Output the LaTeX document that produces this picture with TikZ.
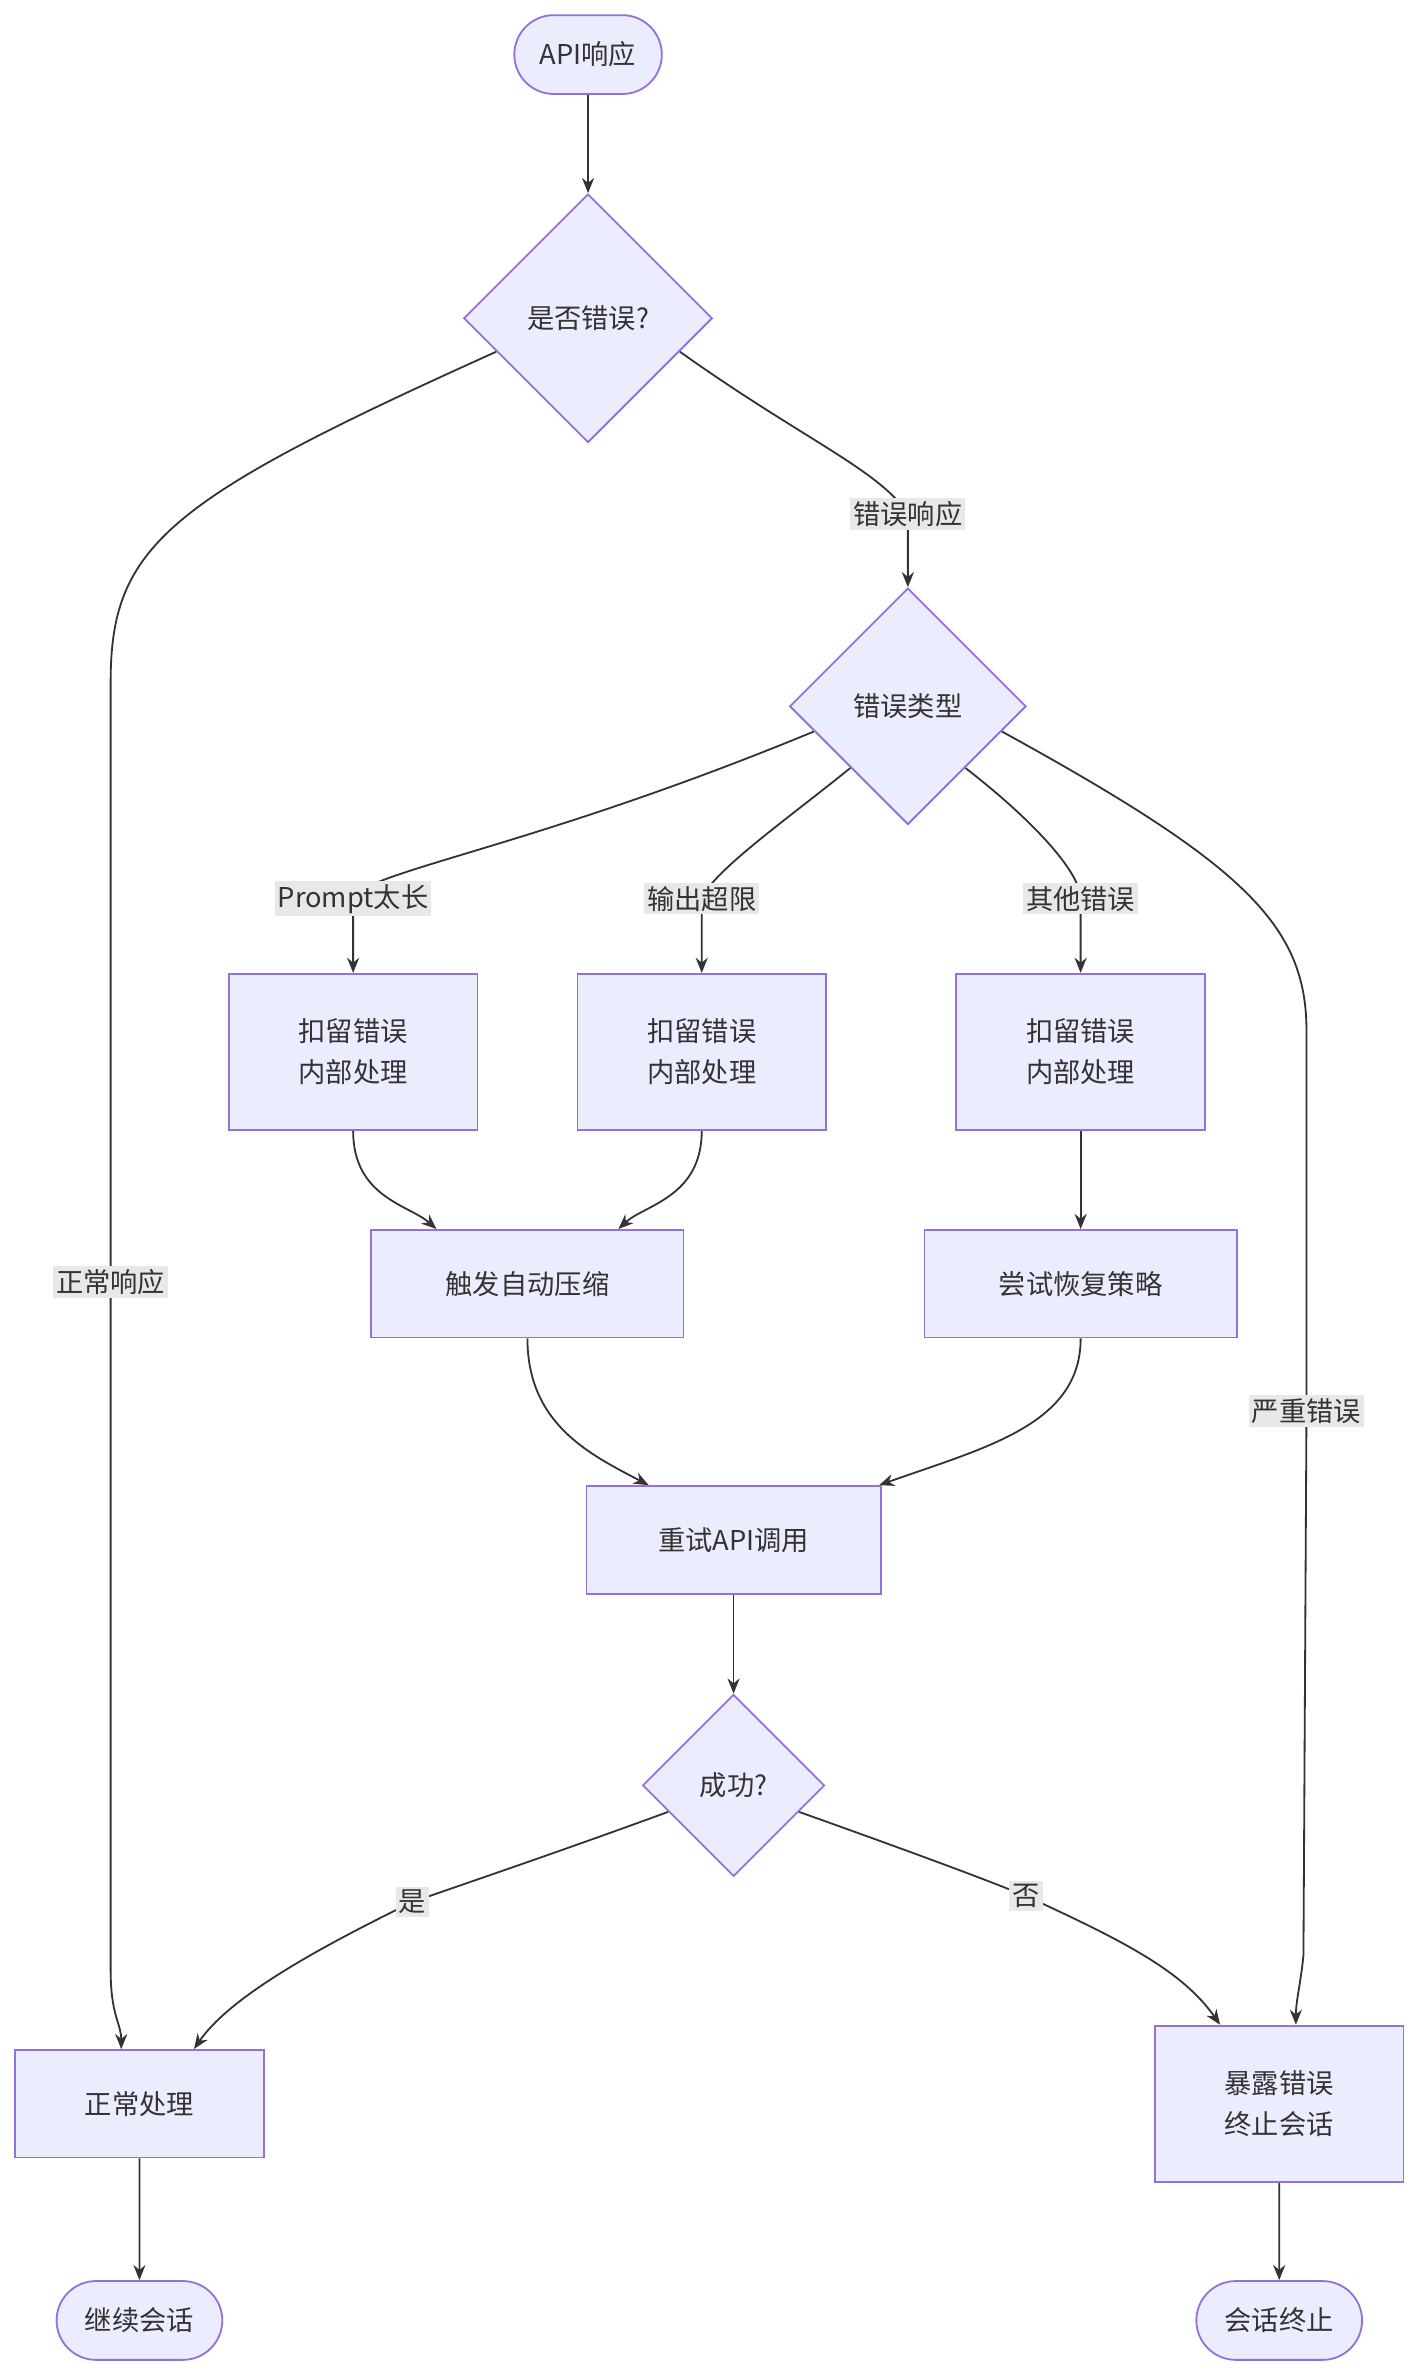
\documentclass[tikz,border=0pt]{standalone}
\usepackage{fontspec}
\setmainfont{Noto Sans CJK SC}
\usetikzlibrary{shapes.geometric,shapes.misc,arrows.meta}
\pgfdeclarelayer{bg}
\pgfsetlayers{bg,main}
\definecolor{nfill}{HTML}{ECECFF}
\definecolor{nline}{HTML}{9370DB}
\definecolor{eline}{HTML}{333333}
\definecolor{lbg}{HTML}{E8E8E8}
\begin{document}
\begin{tikzpicture}[x=1pt,y=-1pt,
  every node/.style={font=\fontsize{18}{27}\selectfont, text=eline},
  box/.style={draw=nline, fill=nfill, line width=1.2pt, minimum width=164pt, minimum height=103pt, align=center, inner sep=0},
  wbox/.style={box, minimum width=206pt, minimum height=71pt},
  term/.style={draw=nline, fill=nfill, line width=1.2pt, rounded rectangle, minimum width=104pt, minimum height=52pt},
  dia/.style={draw=nline, fill=nfill, line width=1.2pt, diamond, inner sep=0, minimum width=#1, minimum height=#1},
  lab/.style={fill=lbg, inner sep=2pt},
  edge/.style={draw=eline, line width=1.2pt, -{Stealth[length=10pt,width=8pt]}}]
\useasboundingbox (0,0) rectangle (937,1567);
\node[term] (api) at (388,36) {API响应};
\node[dia=164pt] (d1) at (388,210) {是否错误?};
\node[dia=156pt] (d2) at (599,466) {错误类型};
\node[box] (b1) at (233,694) {扣留错误\\内部处理};
\node[box] (b2) at (463,694) {扣留错误\\内部处理};
\node[box] (b3) at (713,694) {扣留错误\\内部处理};
\node[wbox] (zip) at (348,847) {触发自动压缩};
\node[wbox] (rec) at (713,847) {尝试恢复策略};
\node[wbox, minimum width=194pt] (retry) at (484,1016) {重试API调用};
\node[dia=120pt] (d3) at (484,1178) {成功?};
\node[box, minimum height=71pt] (norm) at (92,1388) {正常处理};
\node[box] (fail) at (844,1388) {暴露错误\\终止会话};
\node[term, minimum width=116pt] (cont) at (92,1531) {继续会话};
\node[term, minimum width=116pt] (end) at (844,1531) {会话终止};
\node[lab] (l1) at (599,339) {错误响应};
\node[lab] (l2) at (73,846) {正常响应};
\node[lab] (l3) at (233,593) {Prompt太长};
\node[lab] (l4) at (463,593) {输出超限};
\node[lab] (l5) at (713,593) {其他错误};
\node[lab] (l6) at (862,931) {严重错误};
\node[lab] (l7) at (272,1255) {是};
\node[lab] (l8) at (677,1251) {否};
\begin{pgfonlayer}{bg}
\draw[edge] (api) -- (d1);
\draw[edge] (d1.200) .. controls (110,330) and (73,360) .. (73,450) -- (l2.center) -- (73,1300) .. controls (73,1330) and (80,1335) .. (80,1352);
\draw[edge] (d1.-20) .. controls (530,290) and (580,310) .. (l1.center) .. controls (599,355) and (599,370) .. (d2.north);
\draw[edge] (d2.195) .. controls (350,560) and (240,575) .. (l3.center) .. controls (233,610) and (233,625) .. (b1.north);
\draw[edge] (d2.227) .. controls (520,540) and (470,575) .. (l4.center) .. controls (463,610) and (463,625) .. (b2.north);
\draw[edge] (d2.-47) .. controls (680,540) and (713,575) .. (l5.center) .. controls (713,610) and (713,625) .. (b3.north);
\draw[edge] (d2.-15) .. controls (820,570) and (862,610) .. (862,680) -- (l6.center) -- (860,1290) .. controls (858,1310) and (855,1320) .. (fail.north -| 855,0);
\draw[edge] (b1.south) .. controls (233,790) and (270,795) .. (zip.north -| 288,0);
\draw[edge] (b2.south) .. controls (463,790) and (425,795) .. (zip.north -| 408,0);
\draw[edge] (b3) -- (rec);
\draw[edge] (zip.south) .. controls (348,940) and (390,960) .. (retry.north -| 428,0);
\draw[edge] (rec.south) .. controls (713,940) and (650,955) .. (retry.north -| 580,0);
\draw[edge] (retry) -- (d3);
\draw[edge] (d3.202) .. controls (360,1225) and (300,1245) .. (l7.center) .. controls (200,1290) and (150,1320) .. (norm.north -| 128,0);
\draw[edge] (d3.-22) .. controls (610,1225) and (650,1240) .. (l8.center) .. controls (740,1280) and (780,1300) .. (fail.north -| 805,0);
\draw[edge] (norm) -- (cont);
\draw[edge] (fail) -- (end);
\end{pgfonlayer}
\end{tikzpicture}
\end{document}
